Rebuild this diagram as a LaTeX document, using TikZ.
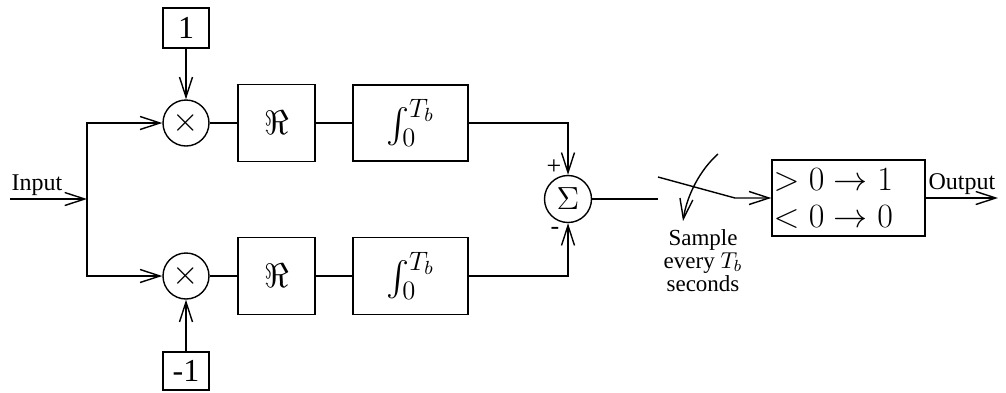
\RequirePackage{fix-cm}
\documentclass[tikz,border=0pt]{standalone}
\usepackage{exscale}
\usepackage{fontspec}
\setmainfont{Liberation Serif}
\usetikzlibrary{arrows.meta}

\begin{document}
\begin{tikzpicture}[x=0.5pt,y=-0.5pt,line width=0.7pt]

      % Styles for the blocks, the round mixers and the open arrow heads
      \tikzstyle{block}=[draw,rectangle,inner sep=0pt,font=\fontsize{17}{19}\selectfont]
      \tikzstyle{mixer}=[draw,circle,minimum size=23pt,inner sep=0pt,font=\fontsize{17}{19}\selectfont]
      \tikzset{>={Straight Barb[length=10pt,width=6.5pt]}}

      % Rows of the two branches
      \def\yu{123}     % upper branch
      \def\yl{276}     % lower branch
      \def\ym{199}     % middle line

      \useasboundingbox (0,0) rectangle (1006,392);

      % Blocks of the two branches
      \node [mixer] (mixu) at (186,\yu) {$\times$};
      \node [mixer] (mixl) at (186,\yl) {$\times$};
      \node [block,minimum width=23pt,minimum height=20pt,font=\fontsize{16}{18}\selectfont] (one) at (186,28) {1};
      \node [block,minimum width=23pt,minimum height=19pt,font=\fontsize{16}{18}\selectfont] (mone) at (186,371) {-1};
      \node [block,minimum width=38.5pt,minimum height=38.5pt] (reu) at (276.5,\yu) {$\Re$};
      \node [block,minimum width=38.5pt,minimum height=38.5pt] (rel) at (276.5,\yl) {$\Re$};
      \node [block,minimum width=57.5pt,minimum height=38pt,font=\fontsize{19}{21}\selectfont] (intu) at (410.5,\yu) {$\int_0^{T_b}$};
      \node [block,minimum width=57.5pt,minimum height=38.5pt,font=\fontsize{19}{21}\selectfont] (intl) at (410.5,\yl) {$\int_0^{T_b}$};

      % Summer and decision device
      \node [mixer,minimum size=23.5pt,font=\fontsize{16}{18}\selectfont] (sum) at (568,\ym) {$\Sigma$};
      \node [block,minimum width=76.5pt,minimum height=38pt,text width=75pt,inner xsep=0.5pt,align=left,font=\fontsize{17}{18.5}\selectfont] (dec) at (848.5,198) {$>0\to1$\\$<0\to0$};

      % Free ends of the lines
      \coordinate (in) at (10,\ym);
      \coordinate (split) at (87,\ym);
      \coordinate (swin) at (658,\ym);
      \coordinate (swa) at (658,177);
      \coordinate (swb) at (735,198);
      \coordinate (out) at (998,198);
      \coordinate (tipa) at (718,154);
      \coordinate (tipb) at (683,221);

      % Input and the split into two branches
      \draw [->] (in) -- (split) node [pos=0.35,above,inner sep=1.5pt,font=\fontsize{12}{14}\selectfont] (inlbl) {Input};
      \draw [->] (split) |- (mixu);
      \draw [->] (split) |- (mixl);
      \draw [->] (one) -- (mixu);
      \draw [->] (mone) -- (mixl);

      % Through the branches
      \draw (mixu) -- (reu);
      \draw (reu) -- (intu);
      \draw (mixl) -- (rel);
      \draw (rel) -- (intl);
      \draw [->] (intu) -| (sum) node [pos=0.93,left,inner sep=3pt,font=\fontsize{13}{15}\selectfont] (plus) {+};
      \draw [->] (intl) -| (sum) node [pos=0.93,left,inner sep=4pt,font=\fontsize{13}{15}\selectfont] (minus) {-};

      % Sampling switch
      \draw (sum) -- (swin);
      \draw [->] (swa) -- (swb) -- (dec);
      \draw [->] (tipa) .. controls (700,170) and (687,195) .. (tipb);
      \node [anchor=north,align=center,inner sep=0pt,font=\fontsize{11.5}{9}\selectfont] (sample) at (703,229) {Sample\\every $T_b$\\seconds};

      % Output
      \draw [->] (dec) -- (out) node [midway,above,inner sep=1.5pt,font=\fontsize{12}{14}\selectfont] (outlbl) {Output};

\end{tikzpicture}
\end{document}
